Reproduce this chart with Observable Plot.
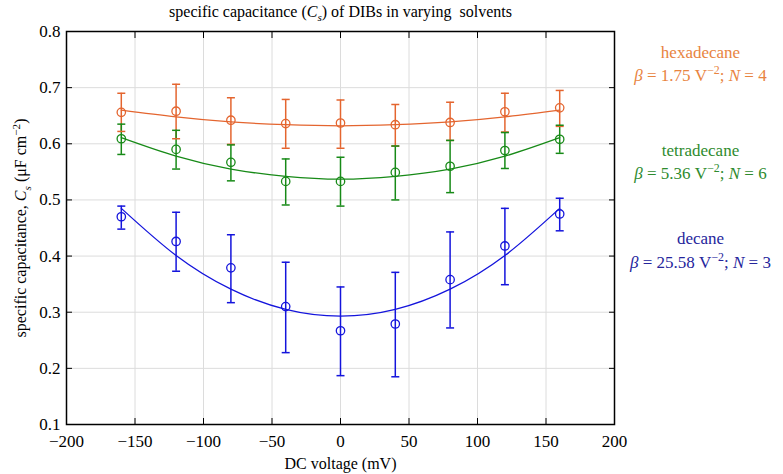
<!DOCTYPE html>
<html><head><meta charset="utf-8">
<script src="https://cdn.jsdelivr.net/npm/d3@7"></script>
<script src="https://cdn.jsdelivr.net/npm/@observablehq/plot@0.6"></script>
<style>body{margin:0;background:#fff}</style>
</head><body><div id="chart"></div><script>
// ---- data ----
const voltage = [-160, -120, -80, -40, 0, 40, 80, 120, 160];
const solvents = ["hexadecane", "tetradecane", "decane"];
const lineColors = ["#e4652f", "#178a17", "#1414dc"];
const textColors = ["#e8843f", "#2e8b2e", "#25259c"];
const betas = ["1.75", "5.36", "25.58"];
const nCounts = ["4", "6", "3"];

const hexMean = [0.656, 0.658, 0.642, 0.636, 0.637, 0.634, 0.638, 0.657, 0.664];
const hexLow  = [0.622, 0.609, 0.599, 0.592, 0.592, 0.596, 0.606, 0.621, 0.631];
const hexHigh = [0.690, 0.706, 0.682, 0.679, 0.678, 0.670, 0.674, 0.690, 0.695];
const hexFit  = [0.660, 0.648, 0.639, 0.634, 0.632, 0.634, 0.639, 0.648, 0.660];

const tetMean = [0.609, 0.590, 0.567, 0.533, 0.533, 0.549, 0.560, 0.588, 0.608];
const tetLow  = [0.581, 0.555, 0.534, 0.491, 0.489, 0.500, 0.513, 0.556, 0.583];
const tetHigh = [0.635, 0.624, 0.598, 0.573, 0.576, 0.596, 0.606, 0.620, 0.633];
const tetFit  = [0.611, 0.578, 0.555, 0.542, 0.537, 0.542, 0.555, 0.578, 0.611];

const decMean = [0.470, 0.426, 0.379, 0.310, 0.267, 0.279, 0.358, 0.418, 0.475];
const decLow  = [0.448, 0.373, 0.317, 0.228, 0.187, 0.185, 0.272, 0.349, 0.445];
const decHigh = [0.489, 0.478, 0.438, 0.389, 0.345, 0.371, 0.443, 0.485, 0.503];
const decFit  = [0.485, 0.401, 0.341, 0.305, 0.293, 0.305, 0.341, 0.401, 0.485];

const xTicks = [-200, -150, -100, -50, 0, 50, 100, 150, 200];
const yTicks = [0.1, 0.2, 0.3, 0.4, 0.5, 0.6, 0.7, 0.8];
const xGrid = [-150, -100, -50, 0, 50, 100, 150];
const yGrid = [0.2, 0.3, 0.4, 0.5, 0.6, 0.7];

const titleText = "specific capacitance (Cs) of DIBs in varying  solvents";
const xLabel = "DC voltage (mV)";
const yLabel = "specific capacitance, Cs (μF cm−2)";

// ---- tables ----
const series = [
  [hexMean, hexLow, hexHigh, hexFit],
  [tetMean, tetLow, tetHigh, tetFit],
  [decMean, decLow, decHigh, decFit]
];
const rows = [], fitRows = [];
series.forEach(([m, lo, hi, f], s) => {
  voltage.forEach((v, i) => {
    rows.push({solvent: solvents[s], V: v, C: m[i], lo: lo[i], hi: hi[i]});
    fitRows.push({solvent: solvents[s], V: v, C: f[i]});
  });
});
const legendNames = solvents.map((s, i) => ({name: s, color: textColors[i]}));
const legendBetas = solvents.map((s, i) => ({name: `β = ${betas[i]} V−2; N = ${nCounts[i]}`, color: textColors[i]}));

const cap = {draw(ctx, size) { const w = Math.sqrt(size / Math.PI); ctx.moveTo(-w, 0); ctx.lineTo(w, 0); }};

const legendOffsets = [[21, 44], [119, 142], [207, 231]];
const legendMarks = [];
legendOffsets.forEach(([d1, d2], i) => {
  legendMarks.push(Plot.text([legendNames[i]], {text: "name", fill: "color", frameAnchor: "top-right", dx: 86, dy: d1, textAnchor: "middle", lineAnchor: "middle", fontSize: 17}));
  legendMarks.push(Plot.text([legendBetas[i]], {text: "name", fill: "color", frameAnchor: "top-right", dx: 86, dy: d2, textAnchor: "middle", lineAnchor: "middle", fontSize: 17}));
});

const SERIF = "Liberation Serif";

const chart = Plot.plot({
  width: 783, height: 474,
  marginLeft: 66, marginRight: 169, marginTop: 31, marginBottom: 50,
  style: {fontFamily: SERIF, fontSize: "17px", background: "#fff", color: "#000"},
  x: {domain: [-200, 200]},
  y: {domain: [0.1, 0.8]},
  color: {domain: solvents, range: lineColors},
  marks: [
    Plot.gridX(xGrid, {stroke: "#dcdcdc", strokeOpacity: 1}),
    Plot.gridY(yGrid, {stroke: "#dcdcdc", strokeOpacity: 1}),
    Plot.line(fitRows, {x: "V", y: "C", z: "solvent", stroke: "solvent", curve: "natural", strokeWidth: 1.3}),
    Plot.ruleX(rows, {x: "V", y1: "lo", y2: "hi", stroke: "solvent", strokeWidth: 1.5}),
    Plot.dot(rows, {x: "V", y: "lo", symbol: cap, r: 4, stroke: "solvent", fill: "none", strokeWidth: 1.5}),
    Plot.dot(rows, {x: "V", y: "hi", symbol: cap, r: 4, stroke: "solvent", fill: "none", strokeWidth: 1.5}),
    Plot.dot(rows, {x: "V", y: "C", r: 4.2, stroke: "solvent", fill: "none", strokeWidth: 1.3}),
    Plot.axisX({anchor: "bottom", ticks: xTicks, tickSize: -6, tickPadding: 16, fontFamily: SERIF, label: xLabel, labelAnchor: "center", labelArrow: "none", labelOffset: 44}),
    Plot.axisX({anchor: "top", ticks: xTicks, tickSize: -6, tickFormat: () => "", label: null}),
    Plot.axisY({anchor: "left", ticks: yTicks, tickSize: -6, tickPadding: 12, fontFamily: SERIF, tickFormat: d => d.toFixed(1), label: yLabel, labelAnchor: "center", labelArrow: "none", labelOffset: 52}),
    Plot.axisY({anchor: "right", ticks: yTicks, tickSize: -6, tickFormat: () => "", label: null}),
    Plot.frame({stroke: "#000", strokeWidth: 1.5}),
    Plot.text([titleText], {frameAnchor: "top", dy: -20, lineAnchor: "middle", fontSize: 16, fontFamily: SERIF}),
    ...legendMarks
  ]
});
document.getElementById("chart").appendChild(chart);

// ---- rich text (italics, sub/superscripts) ----
function rich(node, parts, fs) {
  const sel = d3.select(node);
  sel.text(null);
  let cur = 0;
  for (const [txt, kind] of parts) {
    const ts = sel.append("tspan").text(txt);
    const target = kind && kind.includes("sup") ? -0.38 * fs : kind && kind.includes("sub") ? 0.3 * fs : 0;
    if (target !== cur) { ts.attr("dy", target - cur); cur = target; }
    if (kind && kind.includes("i")) ts.attr("font-style", "italic");
    if (kind && (kind.includes("sup") || kind.includes("sub"))) ts.attr("font-size", 0.7 * fs);
  }
}
d3.select(chart).selectAll("g").attr("font-variant", null);
d3.select(chart).selectAll("text").each(function() {
  const t = this.textContent.trim();
  let m;
  d3.select(this).attr("font-family", SERIF).style("white-space", "pre");
  if (t === titleText) {
    rich(this, [["specific capacitance ("], ["C", "i"], ["s", "i sub"], [") of DIBs in varying  solvents"]], 16);
  } else if (t.startsWith("specific capacitance, C")) {
    this.setAttribute("font-size", 16);
    rich(this, [["specific capacitance, "], ["C", "i"], ["s", "i sub"], [" (μF cm"], ["−2", "sup"], [")"]], 16);
  } else if (t.startsWith("DC voltage")) {
    this.setAttribute("font-size", 16);
  } else if ((m = t.match(/^β = ([\d.]+) V−2; N = (\d+)$/))) {
    rich(this, [["β", "i"], [" = " + m[1] + " V"], ["−2", "sup"], ["; "], ["N", "i"], [" = " + m[2]]], 17);
  }
});
</script></body></html>
